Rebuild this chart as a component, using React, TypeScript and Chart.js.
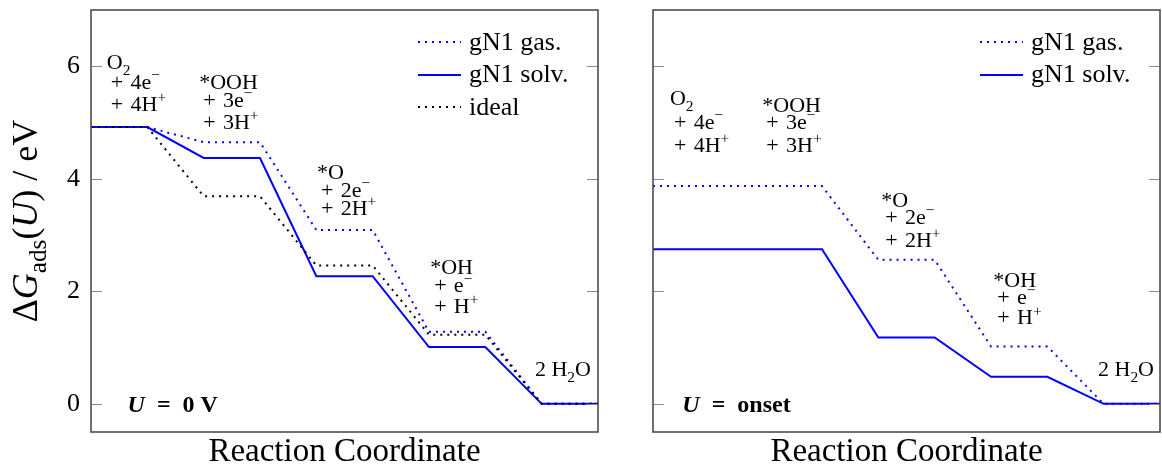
import React, { useEffect, useRef } from "react";
import { Chart, registerables } from "chart.js";

Chart.register(...registerables);

// ---------- data ----------
const STATE_COUNT = 5; // O2, *OOH, *O, *OH, 2H2O
const Y_TICKS = [0, 2, 4, 6];

// Free-energy levels (eV) for each state, U = 0 V
const GAS_0V = [4.92, 4.65, 3.09, 1.28, 0];
const SOLV_0V = [4.92, 4.37, 2.27, 1.01, 0];
const IDEAL_0V = [4.92, 3.69, 2.46, 1.23, 0];

// Free-energy levels (eV) at the onset potential
const GAS_ONSET = [3.87, 3.87, 2.56, 1.02, 0];
const SOLV_ONSET = [2.75, 2.75, 1.18, 0.48, 0];

const LEGEND_GAS = "gN1 gas.";
const LEGEND_SOLV = "gN1 solv.";
const LEGEND_IDEAL = "ideal";

const STATE_LABELS = [
  ["O_2", "+\u20044e^−", "+\u20044H^+"],
  ["*OOH", "+\u20043e^−", "+\u20043H^+"],
  ["*O", "+\u20042e^−", "+\u20042H^+"],
  ["*OH", "+\u2004e^−", "+\u2004H^+"],
  ["2 H_2O"],
];

// label anchors in data coordinates (x = reaction coordinate, y = eV)
const LEFT_LABEL_X = [0.28, 1.92, 4.01, 6.02, 7.88];
const LEFT_LABEL_Y = [
  [6.08, 5.72, 5.33],
  [5.72, 5.4, 5.01],
  [4.13, 3.81, 3.49],
  [2.44, 2.11, 1.74],
  [0.62],
];
const RIGHT_LABEL_X = [0.3, 1.94, 4.05, 6.04, 7.9];
const RIGHT_LABEL_Y = [
  [5.44, 5.01, 4.61],
  [5.31, 5.01, 4.61],
  [3.63, 3.33, 2.92],
  [2.21, 1.91, 1.54],
  [0.62],
];

const X_TITLE = "Reaction Coordinate";

// ---------- helpers ----------
const SERIF = "'Liberation Serif', 'DejaVu Serif', serif";
const BLUE = "#0000ff";

// each state is a plateau of one unit, joined by one-unit ramps
function steps(levels: number[]) {
  const pts: { x: number; y: number }[] = [];
  levels.forEach((v, i) => {
    pts.push({ x: 2 * i, y: v });
    pts.push({ x: 2 * i + 1, y: v });
  });
  return pts;
}

type Seg = { t: string; sub?: boolean; sup?: boolean; i?: boolean; b?: boolean };

function parse(s: string): Seg[] {
  const out: Seg[] = [];
  let buf = "";
  for (let k = 0; k < s.length; k++) {
    const c = s[k];
    if ((c === "_" || c === "^") && k + 1 < s.length) {
      if (buf) {
        out.push({ t: buf });
        buf = "";
      }
      let t: string;
      if (s[k + 1] === "{") {
        const e = s.indexOf("}", k);
        t = s.slice(k + 2, e);
        k = e;
      } else {
        t = s[k + 1];
        k++;
      }
      out.push(c === "_" ? { t, sub: true } : { t, sup: true });
    } else buf += c;
  }
  if (buf) out.push({ t: buf });
  return out;
}

function segFont(s: Seg, size: number) {
  const sz = s.sub || s.sup ? size * 0.7 : size;
  return `${s.i ? "italic " : ""}${s.b ? "bold " : ""}${sz}px ${SERIF}`;
}

function measureSegs(ctx: CanvasRenderingContext2D, segs: Seg[], size: number) {
  let w = 0;
  for (const s of segs) {
    ctx.font = segFont(s, size);
    w += ctx.measureText(s.t).width;
  }
  return w;
}

function drawSegs(ctx: CanvasRenderingContext2D, segs: Seg[], x: number, baseline: number, size: number) {
  let cx = x;
  ctx.textBaseline = "alphabetic";
  ctx.textAlign = "left";
  for (const s of segs) {
    ctx.font = segFont(s, size);
    const dy = s.sub ? size * 0.25 : s.sup ? -size * 0.4 : 0;
    ctx.fillText(s.t, cx, baseline + dy);
    cx += ctx.measureText(s.t).width;
  }
  return cx - x;
}

type SeriesCfg = { label: string; levels: number[]; color: string; dash: number[]; order: number };
type PanelCfg = {
  width: number;
  axisWidth: number;
  padRight: number;
  showTickLabels: boolean;
  yTitle: boolean;
  series: SeriesCfg[];
  labelX: number[];
  labelY: number[][];
  potential: Seg[];
  potentialX: number;
};

const LABEL_SIZE = 22;
const LEGEND_SIZE = 26;
const POT_SIZE = 24;

function makeOverlay(cfg: PanelCfg) {
  return {
    id: "overlay",
    afterDatasetsDraw(chart: any) {
      const ctx: CanvasRenderingContext2D = chart.ctx;
      const ca = chart.chartArea;
      const xs = chart.scales.x;
      const ys = chart.scales.y;
      ctx.save();

      // tick marks (inside, both sides)
      ctx.strokeStyle = "#8a8a8a";
      ctx.lineWidth = 1;
      for (const v of Y_TICKS) {
        const py = Math.round(ys.getPixelForValue(v)) + 0.5;
        ctx.beginPath();
        ctx.moveTo(ca.left, py);
        ctx.lineTo(ca.left + 11, py);
        ctx.moveTo(ca.right - 11, py);
        ctx.lineTo(ca.right, py);
        ctx.stroke();
      }

      // frame
      ctx.strokeStyle = "#4d4d4d";
      ctx.lineWidth = 1.6;
      ctx.strokeRect(ca.left, ca.top, ca.right - ca.left, ca.bottom - ca.top);

      // state labels
      ctx.fillStyle = "#000";
      for (let i = 0; i < STATE_COUNT; i++) {
        const lines = STATE_LABELS[i];
        lines.forEach((ln, j) => {
          const px = xs.getPixelForValue(cfg.labelX[i]) + (j > 0 ? 4 : 0);
          const py = ys.getPixelForValue(cfg.labelY[i][j]) + LABEL_SIZE * 0.33;
          drawSegs(ctx, parse(ln), px, py, LABEL_SIZE);
        });
      }

      // potential label
      {
        const px = xs.getPixelForValue(cfg.potentialX);
        const py = ys.getPixelForValue(0) + POT_SIZE * 0.33;
        drawSegs(ctx, cfg.potential, px, py, POT_SIZE);
      }

      // legend
      const rows = [32, 64.5, 97];
      chart.data.datasets.forEach((ds: any, k: number) => {
        const ry = ca.top + rows[k];
        const x0 = ca.right - 180;
        ctx.save();
        ctx.strokeStyle = ds.borderColor;
        ctx.lineWidth = 2;
        ctx.setLineDash(ds.borderDash || []);
        ctx.beginPath();
        ctx.moveTo(x0, Math.round(ry));
        ctx.lineTo(x0 + 43, Math.round(ry));
        ctx.stroke();
        ctx.restore();
        ctx.fillStyle = "#000";
        drawSegs(ctx, [{ t: ds.label }], ca.right - 129, ry + LEGEND_SIZE * 0.3, LEGEND_SIZE);
      });

      // y-axis title
      if (cfg.yTitle) {
        const segs: Seg[] = [
          { t: "Δ" },
          { t: "G", i: true },
          { t: "ads", sub: true },
          { t: "(" },
          { t: "U", i: true },
          { t: ") / eV" },
        ];
        const size = 36;
        const w = measureSegs(ctx, segs, size);
        const cy = (ca.top + ca.bottom) / 2;
        ctx.save();
        ctx.translate(37, cy);
        ctx.rotate(-Math.PI / 2);
        ctx.fillStyle = "#000";
        drawSegs(ctx, segs, -w / 2, 0, size);
        ctx.restore();
      }

      ctx.restore();
    },
  };
}

function Panel({ cfg }: { cfg: PanelCfg }) {
  const ref = useRef<HTMLCanvasElement>(null);
  useEffect(() => {
    const chart = new Chart(ref.current as HTMLCanvasElement, {
      type: "line",
      data: {
        datasets: cfg.series.map((s) => ({
          label: s.label,
          data: steps(s.levels),
          borderColor: s.color,
          backgroundColor: s.color,
          borderWidth: 2,
          borderDash: s.dash,
          borderCapStyle: "butt",
          pointRadius: 0,
          fill: false,
          tension: 0,
          order: s.order,
        })),
      },
      options: {
        responsive: false,
        animation: false,
        devicePixelRatio: 1,
        layout: { padding: { left: 0, top: 10, right: cfg.padRight, bottom: 0 } },
        plugins: { legend: { display: false }, tooltip: { enabled: false } },
        scales: {
          x: {
            type: "linear",
            min: 0,
            max: 9,
            grid: { display: false, drawTicks: false },
            border: { display: false },
            ticks: { display: false },
            title: {
              display: true,
              text: X_TITLE,
              color: "#000",
              font: { family: SERIF, size: 33, lineHeight: 1 },
              padding: { top: 0, bottom: 0 },
            },
            afterFit: (s: any) => {
              s.height = 37;
              s.paddingLeft = 0;
              s.paddingRight = 0;
            },
          },
          y: {
            type: "linear",
            min: -0.5,
            max: 7,
            grid: { display: false, drawTicks: false },
            border: { display: false },
            afterBuildTicks: (s: any) => {
              s.ticks = Y_TICKS.map((v) => ({ value: v }));
            },
            ticks: {
              display: cfg.showTickLabels,
              color: "#000",
              font: { family: SERIF, size: 26 },
              padding: 11,
            },
            afterFit: (s: any) => {
              s.width = cfg.axisWidth;
              s.paddingTop = 0;
              s.paddingBottom = 0;
            },
          },
        },
      } as any,
      plugins: [makeOverlay(cfg)],
    });
    return () => chart.destroy();
  }, []);
  return <canvas ref={ref} width={cfg.width} height={469} style={{ display: "block" }} />;
}

const LEFT: PanelCfg = {
  width: 620,
  axisWidth: 91,
  padRight: 22,
  showTickLabels: true,
  yTitle: true,
  series: [
    { label: LEGEND_GAS, levels: GAS_0V, color: BLUE, dash: [2, 5], order: 2 },
    { label: LEGEND_SOLV, levels: SOLV_0V, color: BLUE, dash: [], order: 1 },
    { label: LEGEND_IDEAL, levels: IDEAL_0V, color: "#000", dash: [2, 5], order: 0 },
  ],
  labelX: LEFT_LABEL_X,
  labelY: LEFT_LABEL_Y,
  potential: [
    { t: "U", i: true, b: true },
    { t: "\u2002=\u2002", b: true },
    { t: "0 V", b: true },
  ],
  potentialX: 0.65,
};

const RIGHT: PanelCfg = {
  width: 542,
  axisWidth: 33,
  padRight: 2,
  showTickLabels: false,
  yTitle: false,
  series: [
    { label: LEGEND_GAS, levels: GAS_ONSET, color: BLUE, dash: [2, 5], order: 2 },
    { label: LEGEND_SOLV, levels: SOLV_ONSET, color: BLUE, dash: [], order: 1 },
  ],
  labelX: RIGHT_LABEL_X,
  labelY: RIGHT_LABEL_Y,
  potential: [
    { t: "U", i: true, b: true },
    { t: "\u2002=\u2002", b: true },
    { t: "onset", b: true },
  ],
  potentialX: 0.52,
};

export default function App() {
  return (
    <div
      style={{
        position: "fixed",
        left: 0,
        top: 0,
        width: 1162,
        height: 469,
        background: "#fff",
        overflow: "hidden",
      }}
    >
      <div style={{ position: "absolute", left: 0, top: 0 }}>
        <Panel cfg={LEFT} />
      </div>
      <div style={{ position: "absolute", left: 620, top: 0 }}>
        <Panel cfg={RIGHT} />
      </div>
    </div>
  );
}
